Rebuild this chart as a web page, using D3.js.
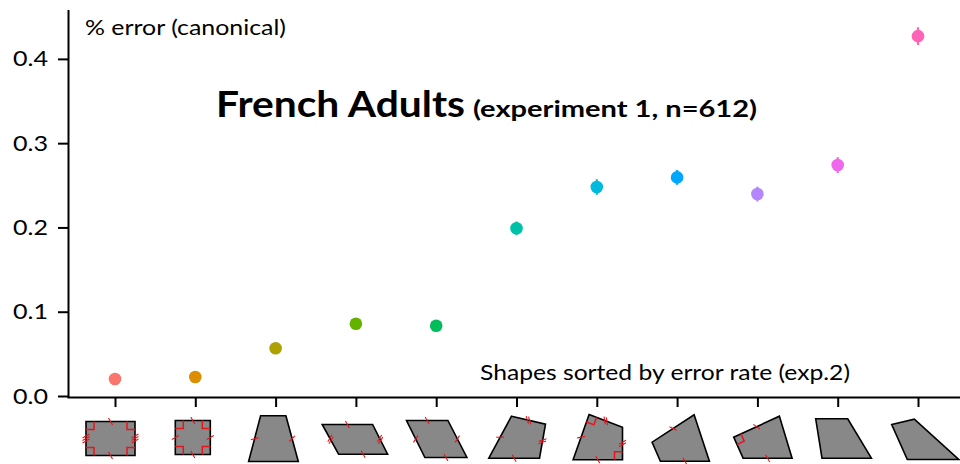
<!DOCTYPE html>
<html>
<head>
<meta charset="utf-8">
<script src="https://cdn.jsdelivr.net/npm/d3@7"></script>
<style>
  body { margin: 0; background: #fff; }
  svg { display: block; }
  text { font-family: Lato, "Open Sans", sans-serif; fill: #000; }
</style>
</head>
<body>
<svg id="chart" width="960" height="464"></svg>
<script>
// Shape categories, sorted by error rate
const shapes = ["rectangle", "square", "isosceles trapezoid", "parallelogram", "rhombus",
                "kite", "right kite", "hinge", "right hinge", "trapezoid", "irregular"];
// Mean error rate per shape
const errorRate = [0.0202, 0.0225, 0.0566, 0.0858, 0.0834, 0.199, 0.248, 0.2594, 0.2396, 0.274, 0.427];
// Standard error of the mean
const errorSE = [0.004, 0.004, 0.004, 0.005, 0.005, 0.008, 0.0092, 0.0088, 0.0088, 0.0095, 0.0105];
const yTicks = [0, 0.1, 0.2, 0.3, 0.4];
const colors = ["#F8766D", "#DB8E00", "#AEA200", "#64B200", "#00BD5C", "#00C1A7",
                "#00BADE", "#00A6FF", "#B385FF", "#EF67EB", "#FF63B6"];

// Glyph outlines drawn under each category tick: [dx from tick, dy below axis]
const outlines = [
  [[-29, 24], [20, 24], [20, 58], [-29, 58]],
  [[-20, 23], [15, 23], [15, 57], [-20, 57]],
  [[-15, 18.3], [10.3, 18.3], [22.7, 64], [-27, 64]],
  [[-33.7, 27], [16.7, 27], [31.7, 56.7], [-17.3, 56.7]],
  [[-29.7, 23], [11.7, 23], [30.7, 60], [-11.3, 60]],
  [[-5, 18.7], [29, 26.7], [23, 60.7], [-27.7, 60.7]],
  [[-7.7, 17], [25.7, 29.7], [25.7, 62.3], [-23.7, 62.3]],
  [[17, 17.3], [32.3, 63.7], [-16.7, 63.7], [-25, 44.7]],
  [[22, 18.7], [34.7, 60.7], [-14.3, 60.7], [-23.7, 39.7]],
  [[-22, 21.3], [10, 21.3], [33.7, 60.7], [-15.7, 60.7]],
  [[-26.3, 27], [-3.7, 21.7], [40.7, 62], [-10.7, 62]]
];
// Equal-length hash marks per edge (edge i runs from vertex i to vertex i+1)
const edgeMarks = [
  [1, 3, 1, 3], [1, 1, 1, 1], [0, 1, 0, 1], [1, 2, 1, 2], [1, 1, 1, 1],
  [2, 2, 1, 1], [2, 2, 1, 1], [0, 1, 0, 1], [0, 1, 0, 1], [0, 0, 0, 0], [0, 0, 0, 0]
];
// Vertices carrying a right-angle mark
const rightAngles = [[0, 1, 2, 3], [0, 1, 2, 3], [], [], [], [], [0, 2], [], [3], [], []];

const svg = d3.select("#chart");

const x = d3.scalePoint().domain(shapes).range([115, 918]);
const y = d3.scaleLinear().domain([0, 0.458]).range([396, 10]);
const axisY = 397.5;

// Y axis
const yAxis = svg.append("g")
  .attr("transform", "translate(68,0)")
  .call(d3.axisLeft(y).tickValues(yTicks).tickFormat(d3.format(".1f"))
        .tickSize(10).tickSizeOuter(0).tickPadding(8));
yAxis.select(".domain").attr("stroke-width", 2).attr("d", `M0.5,10V${axisY}`);
yAxis.selectAll(".tick line").attr("stroke-width", 2);
yAxis.selectAll(".tick text")
  .attr("font-size", 22)
  .attr("x", -20)
  .attr("textLength", 35)
  .attr("lengthAdjust", "spacingAndGlyphs")
  .style("font-family", "Lato, sans-serif");

// X axis
const xAxis = svg.append("g")
  .attr("transform", `translate(0,${axisY - 0.5})`)
  .call(d3.axisBottom(x).tickFormat("").tickSize(10).tickSizeOuter(0));
xAxis.select(".domain").attr("stroke-width", 2).attr("d", "M67.5,0.5H960");
xAxis.selectAll(".tick line").attr("stroke-width", 2);

// Error bars and points
const pts = svg.append("g").selectAll("g").data(shapes).join("g");
pts.append("line")
  .attr("x1", d => x(d)).attr("x2", d => x(d))
  .attr("y1", (d, i) => y(errorRate[i] - errorSE[i]))
  .attr("y2", (d, i) => y(errorRate[i] + errorSE[i]))
  .attr("stroke", (d, i) => colors[i])
  .attr("stroke-width", 2.2);
pts.append("circle")
  .attr("cx", d => x(d))
  .attr("cy", (d, i) => y(errorRate[i]))
  .attr("r", 6.3)
  .attr("fill", (d, i) => colors[i]);

// Shape glyphs below the axis
const glyphs = svg.append("g").selectAll("g").data(shapes).join("g")
  .attr("transform", d => `translate(${x(d)},${axisY})`);

glyphs.append("polygon")
  .attr("points", (d, i) => outlines[i].map(p => p.join(",")).join(" "))
  .attr("fill", "#888888")
  .attr("stroke", "#000")
  .attr("stroke-width", 1.6)
  .attr("stroke-linejoin", "miter");

glyphs.each(function (d, i) {
  const g = d3.select(this);
  const pts = outlines[i];
  const n = pts.length;
  // hash marks
  edgeMarks[i].forEach((count, e) => {
    if (!count) return;
    const a = pts[e], b = pts[(e + 1) % n];
    const len = Math.hypot(b[0] - a[0], b[1] - a[1]);
    const ux = (b[0] - a[0]) / len, uy = (b[1] - a[1]) / len;
    // mark direction: edge normal tilted toward the edge
    const ang = Math.PI / 3;
    const dx = ux * Math.cos(ang) - uy * Math.sin(ang);
    const dy = ux * Math.sin(ang) + uy * Math.cos(ang);
    const mx = (a[0] + b[0]) / 2, my = (a[1] + b[1]) / 2;
    for (let k = 0; k < count; k++) {
      const off = (k - (count - 1) / 2) * 2.4;
      const cx = mx + ux * off, cy = my + uy * off;
      g.append("line")
        .attr("x1", cx - dx * 4).attr("y1", cy - dy * 4)
        .attr("x2", cx + dx * 4).attr("y2", cy + dy * 4)
        .attr("stroke", "#e8141c").attr("stroke-width", 1.1);
    }
  });
  // right-angle marks
  rightAngles[i].forEach(v => {
    const p = pts[v], prev = pts[(v + n - 1) % n], next = pts[(v + 1) % n];
    const s = 8;
    const l1 = Math.hypot(prev[0] - p[0], prev[1] - p[1]);
    const l2 = Math.hypot(next[0] - p[0], next[1] - p[1]);
    const u1 = [(prev[0] - p[0]) / l1 * s, (prev[1] - p[1]) / l1 * s];
    const u2 = [(next[0] - p[0]) / l2 * s, (next[1] - p[1]) / l2 * s];
    g.append("polyline")
      .attr("points", [[p[0] + u1[0], p[1] + u1[1]],
                       [p[0] + u1[0] + u2[0], p[1] + u1[1] + u2[1]],
                       [p[0] + u2[0], p[1] + u2[1]]].map(q => q.join(",")).join(" "))
      .attr("fill", "none").attr("stroke", "#e8141c").attr("stroke-width", 1.5);
  });
});

// Labels
svg.append("text").attr("x", 85).attr("y", 35).attr("font-size", 21)
  .attr("textLength", 201).attr("lengthAdjust", "spacingAndGlyphs")
  .text("% error (canonical)");

svg.append("text").attr("x", 216).attr("y", 117).attr("font-size", 36)
  .attr("font-weight", 700)
  .attr("textLength", 249).attr("lengthAdjust", "spacingAndGlyphs")
  .text("French Adults");

svg.append("text").attr("x", 473).attr("y", 117).attr("font-size", 23)
  .attr("font-weight", 700)
  .attr("textLength", 284).attr("lengthAdjust", "spacingAndGlyphs")
  .text("(experiment 1, n=612)");

svg.append("text").attr("x", 480).attr("y", 380).attr("font-size", 21)
  .attr("textLength", 370).attr("lengthAdjust", "spacingAndGlyphs")
  .text("Shapes sorted by error rate (exp.2)");
</script>
</body>
</html>
